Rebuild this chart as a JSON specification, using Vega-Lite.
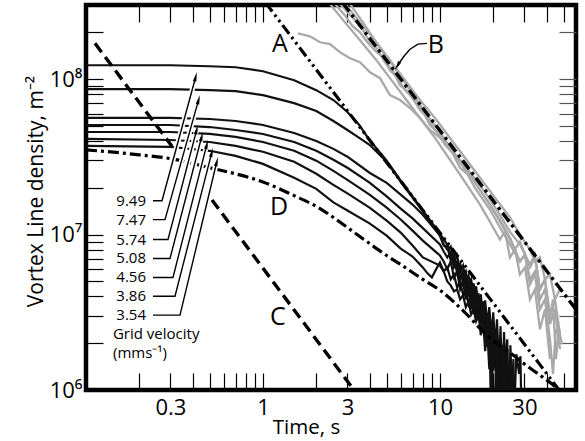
{
"$schema": "https://vega.github.io/schema/vega-lite/v6.json",
"width": 490, "height": 385,
"autosize": {"type": "none"},
"padding": {"left": 86, "top": 5, "right": 9, "bottom": 51},
"background": "white",
"config": {
  "view": {"stroke": "black", "strokeWidth": 4.5},
  "font": "Open Sans",
  "axis": {"grid": false, "domain": false, "tickColor": "black", "tickWidth": 1.2, "tickSize": -17,
    "labelFont": "Open Sans", "titleFont": "Open Sans", "labelFontSize": 22, "titleFontSize": 20.5,
    "titleFontWeight": "normal", "labelColor": "black", "titleColor": "black",
    "labelOverlap": false, "labelBound": false, "labelFlush": false}
},
"datasets": {
  "black": [
    {"v":"9.49","t":0.1,"n":1.229e8},{"v":"9.49","t":0.3,"n":1.229e8},{"v":"9.49","t":0.5,"n":1.211e8},{"v":"9.49","t":0.7,"n":1.193e8},{"v":"9.49","t":1,"n":1.125e8},{"v":"9.49","t":1.5,"n":9.85e7},{"v":"9.49","t":2,"n":8.5e7},{"v":"9.49","t":2.5,"n":7.34e7},{"v":"9.49","t":3,"n":6.15e7},{"v":"9.49","t":3.5,"n":5.07e7},{"v":"9.49","t":4,"n":4.06e7},{"v":"9.49","t":5,"n":2.99e7},{"v":"9.49","t":6,"n":2.22e7},{"v":"9.49","t":7,"n":1.76e7},{"v":"9.49","t":8,"n":1.43e7},{"v":"9.49","t":10,"n":1.015e7},{"v":"9.49","t":11,"n":8.63e6},{"v":"9.49","t":11.5,"n":7.23e6},{"v":"9.49","t":12,"n":7.44e6},{"v":"9.49","t":12.5,"n":6.15e6},{"v":"9.49","t":13,"n":6.52e6},{"v":"9.49","t":13.5,"n":5.38e6},{"v":"9.49","t":14,"n":5.8e6},{"v":"9.49","t":14.5,"n":4.64e6},{"v":"9.49","t":15,"n":5.15e6},{"v":"9.49","t":15.5,"n":4.07e6},{"v":"9.49","t":16,"n":4.64e6},{"v":"9.49","t":16.5,"n":3.51e6},{"v":"9.49","t":17,"n":4.13e6},{"v":"9.49","t":17.5,"n":3.02e6},{"v":"9.49","t":18,"n":3.77e6},{"v":"9.49","t":18.5,"n":2.65e6},{"v":"9.49","t":19,"n":3.41e6},{"v":"9.49","t":19.5,"n":2.22e6},{"v":"9.49","t":20,"n":3.16e6},{"v":"9.49","t":20.5,"n":1.86e6},{"v":"9.49","t":21,"n":2.85e6},{"v":"9.49","t":21.5,"n":1.38e6},{"v":"9.49","t":22,"n":2.57e6},{"v":"9.49","t":22.5,"n":5e5},{"v":"9.49","t":23,"n":2.36e6},{"v":"9.49","t":23.5,"n":1.4e6},{"v":"9.49","t":24,"n":2.12e6},{"v":"9.49","t":24.5,"n":5e5},{"v":"9.49","t":25,"n":1.94e6},{"v":"9.49","t":26,"n":5e5},{"v":"9.49","t":27,"n":1.7e6},{"v":"9.49","t":28,"n":1.27e6},{"v":"9.49","t":28.5,"n":1.65e6},{"v":"9.49","t":29,"n":5e5},
    {"v":"7.47","t":0.1,"n":8.62e7},{"v":"7.47","t":0.3,"n":8.62e7},{"v":"7.47","t":0.5,"n":8.5e7},{"v":"7.47","t":0.7,"n":8.37e7},{"v":"7.47","t":1,"n":7.9e7},{"v":"7.47","t":1.5,"n":7.01e7},{"v":"7.47","t":2,"n":6.24e7},{"v":"7.47","t":2.5,"n":5.38e7},{"v":"7.47","t":3,"n":4.71e7},{"v":"7.47","t":3.5,"n":4.19e7},{"v":"7.47","t":4,"n":3.78e7},{"v":"7.47","t":5,"n":2.94e7},{"v":"7.47","t":6,"n":2.18e7},{"v":"7.47","t":7,"n":1.73e7},{"v":"7.47","t":8,"n":1.41e7},{"v":"7.47","t":10,"n":9.85e6},{"v":"7.47","t":10.5,"n":8.5e6},{"v":"7.47","t":11,"n":8.38e6},{"v":"7.47","t":11.5,"n":6.81e6},{"v":"7.47","t":12,"n":7.13e6},{"v":"7.47","t":12.5,"n":5.63e6},{"v":"7.47","t":13,"n":6.24e6},{"v":"7.47","t":13.5,"n":4.78e6},{"v":"7.47","t":14,"n":5.54e6},{"v":"7.47","t":14.5,"n":4.01e6},{"v":"7.47","t":15,"n":4.85e6},{"v":"7.47","t":15.5,"n":3.41e6},{"v":"7.47","t":16,"n":4.38e6},{"v":"7.47","t":16.5,"n":2.85e6},{"v":"7.47","t":17,"n":3.89e6},{"v":"7.47","t":17.5,"n":2.36e6},{"v":"7.47","t":18,"n":3.46e6},{"v":"7.47","t":18.5,"n":1.89e6},{"v":"7.47","t":19,"n":3.11e6},{"v":"7.47","t":19.5,"n":5e5},{"v":"7.47","t":20,"n":2.73e6},{"v":"7.47","t":20.5,"n":1.49e6},{"v":"7.47","t":21,"n":2.46e6},{"v":"7.47","t":21.5,"n":5e5},{"v":"7.47","t":22,"n":2.15e6},{"v":"7.47","t":23,"n":1.47e6},{"v":"7.47","t":24,"n":1.83e6},{"v":"7.47","t":25,"n":5e5},{"v":"7.47","t":26,"n":1.58e6},{"v":"7.47","t":26.5,"n":5e5},
    {"v":"5.74","t":0.1,"n":5.63e7},{"v":"5.74","t":0.3,"n":5.63e7},{"v":"5.74","t":0.5,"n":5.54e7},{"v":"5.74","t":0.7,"n":5.38e7},{"v":"5.74","t":1,"n":5.07e7},{"v":"5.74","t":1.5,"n":4.5e7},{"v":"5.74","t":2,"n":4.0e7},{"v":"5.74","t":2.5,"n":3.56e7},{"v":"5.74","t":3,"n":3.17e7},{"v":"5.74","t":4,"n":2.5e7},{"v":"5.74","t":5,"n":2.15e7},{"v":"5.74","t":6,"n":1.81e7},{"v":"5.74","t":7,"n":1.56e7},{"v":"5.74","t":8,"n":1.34e7},{"v":"5.74","t":10,"n":9.85e6},{"v":"5.74","t":10.5,"n":8.63e6},{"v":"5.74","t":11,"n":8.01e6},{"v":"5.74","t":11.5,"n":8.38e6},{"v":"5.74","t":12,"n":6.71e6},{"v":"5.74","t":12.5,"n":7.33e6},{"v":"5.74","t":13,"n":5.8e6},{"v":"5.74","t":13.5,"n":6.32e6},{"v":"5.74","t":14,"n":5.0e6},{"v":"5.74","t":14.5,"n":5.46e6},{"v":"5.74","t":15,"n":4.31e6},{"v":"5.74","t":15.5,"n":4.85e6},{"v":"5.74","t":16,"n":3.61e6},{"v":"5.74","t":16.5,"n":4.19e6},{"v":"5.74","t":17,"n":3.02e6},{"v":"5.74","t":17.5,"n":3.72e6},{"v":"5.74","t":18,"n":2.46e6},{"v":"5.74","t":18.5,"n":3.11e6},{"v":"5.74","t":19,"n":1.97e6},{"v":"5.74","t":19.5,"n":2.61e6},{"v":"5.74","t":20,"n":1.47e6},{"v":"5.74","t":20.5,"n":2.32e6},{"v":"5.74","t":21,"n":1.18e6},{"v":"5.74","t":21.5,"n":1.97e6},{"v":"5.74","t":22,"n":5e5},{"v":"5.74","t":23,"n":1.7e6},{"v":"5.74","t":24,"n":5e5},{"v":"5.74","t":25,"n":1.54e6},{"v":"5.74","t":26,"n":5e5},
    {"v":"5.08","t":0.1,"n":5.07e7},{"v":"5.08","t":0.3,"n":5.07e7},{"v":"5.08","t":0.5,"n":4.92e7},{"v":"5.08","t":0.7,"n":4.71e7},{"v":"5.08","t":1,"n":4.44e7},{"v":"5.08","t":1.5,"n":3.94e7},{"v":"5.08","t":2,"n":3.46e7},{"v":"5.08","t":2.5,"n":3.03e7},{"v":"5.08","t":3,"n":2.69e7},{"v":"5.08","t":4,"n":2.16e7},{"v":"5.08","t":5,"n":1.76e7},{"v":"5.08","t":6,"n":1.47e7},{"v":"5.08","t":7,"n":1.27e7},{"v":"5.08","t":8,"n":1.1e7},{"v":"5.08","t":10,"n":8.63e6},{"v":"5.08","t":10.5,"n":7.78e6},{"v":"5.08","t":11,"n":7.13e6},{"v":"5.08","t":11.5,"n":7.67e6},{"v":"5.08","t":12,"n":6.15e6},{"v":"5.08","t":12.5,"n":6.71e6},{"v":"5.08","t":13,"n":5.15e6},{"v":"5.08","t":13.5,"n":5.8e6},{"v":"5.08","t":14,"n":4.44e6},{"v":"5.08","t":14.5,"n":5.0e6},{"v":"5.08","t":15,"n":3.72e6},{"v":"5.08","t":15.5,"n":4.31e6},{"v":"5.08","t":16,"n":3.11e6},{"v":"5.08","t":16.5,"n":3.83e6},{"v":"5.08","t":17,"n":2.61e6},{"v":"5.08","t":17.5,"n":3.31e6},{"v":"5.08","t":18,"n":2.12e6},{"v":"5.08","t":18.5,"n":2.77e6},{"v":"5.08","t":19,"n":1.68e6},{"v":"5.08","t":19.5,"n":2.32e6},{"v":"5.08","t":20,"n":1.33e6},{"v":"5.08","t":20.5,"n":2.06e6},{"v":"5.08","t":21,"n":5e5},{"v":"5.08","t":22,"n":1.78e6},{"v":"5.08","t":22.5,"n":5e5},{"v":"5.08","t":23.5,"n":1.58e6},{"v":"5.08","t":24.5,"n":5e5},
    {"v":"4.56","t":0.1,"n":4.57e7},{"v":"4.56","t":0.3,"n":4.57e7},{"v":"4.56","t":0.5,"n":4.44e7},{"v":"4.56","t":0.7,"n":4.25e7},{"v":"4.56","t":1,"n":3.94e7},{"v":"4.56","t":1.5,"n":3.46e7},{"v":"4.56","t":2,"n":2.99e7},{"v":"4.56","t":2.5,"n":2.57e7},{"v":"4.56","t":3,"n":2.25e7},{"v":"4.56","t":4,"n":1.81e7},{"v":"4.56","t":5,"n":1.49e7},{"v":"4.56","t":6,"n":1.25e7},{"v":"4.56","t":7,"n":1.06e7},{"v":"4.56","t":8,"n":9.15e6},{"v":"4.56","t":10,"n":7.33e6},{"v":"4.56","t":10.5,"n":6.71e6},{"v":"4.56","t":11,"n":5.97e6},{"v":"4.56","t":11.5,"n":6.71e6},{"v":"4.56","t":12,"n":5.3e6},{"v":"4.56","t":12.5,"n":5.8e6},{"v":"4.56","t":13,"n":4.44e6},{"v":"4.56","t":13.5,"n":5.0e6},{"v":"4.56","t":14,"n":3.83e6},{"v":"4.56","t":14.5,"n":4.44e6},{"v":"4.56","t":15,"n":3.31e6},{"v":"4.56","t":15.5,"n":3.83e6},{"v":"4.56","t":16,"n":2.77e6},{"v":"4.56","t":16.5,"n":3.41e6},{"v":"4.56","t":17,"n":2.25e6},{"v":"4.56","t":17.5,"n":2.94e6},{"v":"4.56","t":18,"n":1.78e6},{"v":"4.56","t":18.5,"n":2.46e6},{"v":"4.56","t":19,"n":1.36e6},{"v":"4.56","t":19.5,"n":2.12e6},{"v":"4.56","t":20,"n":5e5},{"v":"4.56","t":21,"n":1.83e6},{"v":"4.56","t":22,"n":5e5},{"v":"4.56","t":23,"n":1.54e6},{"v":"4.56","t":24,"n":5e5},{"v":"4.56","t":26,"n":1.27e6},{"v":"4.56","t":27,"n":5e5},
    {"v":"3.86","t":0.1,"n":4.13e7},{"v":"3.86","t":0.3,"n":4.06e7},{"v":"3.86","t":0.5,"n":3.94e7},{"v":"3.86","t":0.7,"n":3.72e7},{"v":"3.86","t":1,"n":3.41e7},{"v":"3.86","t":1.5,"n":2.94e7},{"v":"3.86","t":2,"n":2.46e7},{"v":"3.86","t":2.5,"n":2.09e7},{"v":"3.86","t":3,"n":1.84e7},{"v":"3.86","t":4,"n":1.49e7},{"v":"3.86","t":5,"n":1.23e7},{"v":"3.86","t":6,"n":1.03e7},{"v":"3.86","t":7,"n":8.5e6},{"v":"3.86","t":8,"n":7.13e6},{"v":"3.86","t":10,"n":6.32e6},{"v":"3.86","t":10.5,"n":5.8e6},{"v":"3.86","t":11,"n":6.15e6},{"v":"3.86","t":11.5,"n":5.15e6},{"v":"3.86","t":12,"n":5.54e6},{"v":"3.86","t":12.5,"n":4.57e6},{"v":"3.86","t":13,"n":5.0e6},{"v":"3.86","t":13.5,"n":4.13e6},{"v":"3.86","t":14,"n":4.44e6},{"v":"3.86","t":14.5,"n":3.56e6},{"v":"3.86","t":15,"n":3.94e6},{"v":"3.86","t":15.5,"n":3.07e6},{"v":"3.86","t":16,"n":3.51e6},{"v":"3.86","t":17,"n":2.65e6},{"v":"3.86","t":17.5,"n":3.21e6},{"v":"3.86","t":18,"n":2.18e6},{"v":"3.86","t":18.5,"n":2.77e6},{"v":"3.86","t":19,"n":1.78e6},{"v":"3.86","t":19.5,"n":2.39e6},{"v":"3.86","t":20,"n":1.45e6},{"v":"3.86","t":20.5,"n":2.12e6},{"v":"3.86","t":21,"n":1.09e6},{"v":"3.86","t":21.5,"n":1.89e6},{"v":"3.86","t":22,"n":5e5},{"v":"3.86","t":23,"n":1.63e6},{"v":"3.86","t":24,"n":5e5},
    {"v":"3.54","t":0.1,"n":3.72e7},{"v":"3.54","t":0.3,"n":3.67e7},{"v":"3.54","t":0.5,"n":3.46e7},{"v":"3.54","t":0.7,"n":3.21e7},{"v":"3.54","t":1,"n":2.85e7},{"v":"3.54","t":1.5,"n":2.32e7},{"v":"3.54","t":2,"n":1.97e7},{"v":"3.54","t":2.5,"n":1.61e7},{"v":"3.54","t":3,"n":1.43e7},{"v":"3.54","t":4,"n":1.18e7},{"v":"3.54","t":5,"n":9.85e6},{"v":"3.54","t":6,"n":8.13e6},{"v":"3.54","t":7,"n":7.23e6},{"v":"3.54","t":8,"n":6.15e6},{"v":"3.54","t":8.5,"n":5.63e6},{"v":"3.54","t":9,"n":5.3e6},{"v":"3.54","t":9.5,"n":5.97e6},{"v":"3.54","t":10,"n":6.61e6},{"v":"3.54","t":10.5,"n":5.8e6},{"v":"3.54","t":11,"n":5.0e6},{"v":"3.54","t":11.5,"n":4.71e6},{"v":"3.54","t":12,"n":4.31e6},{"v":"3.54","t":12.5,"n":4.44e6},{"v":"3.54","t":13,"n":3.83e6},{"v":"3.54","t":13.5,"n":4.07e6},{"v":"3.54","t":14,"n":3.41e6},{"v":"3.54","t":14.5,"n":3.72e6},{"v":"3.54","t":15,"n":3.07e6},{"v":"3.54","t":15.5,"n":3.31e6},{"v":"3.54","t":16,"n":2.77e6},{"v":"3.54","t":16.5,"n":3.02e6},{"v":"3.54","t":17,"n":2.46e6},{"v":"3.54","t":17.5,"n":2.77e6},{"v":"3.54","t":18,"n":2.25e6},{"v":"3.54","t":18.5,"n":2.53e6},{"v":"3.54","t":19,"n":1.97e6},{"v":"3.54","t":19.5,"n":2.32e6},{"v":"3.54","t":20,"n":1.7e6},{"v":"3.54","t":20.5,"n":2.12e6},{"v":"3.54","t":21,"n":1.27e6},{"v":"3.54","t":21.5,"n":1.97e6},{"v":"3.54","t":22,"n":5e5},{"v":"3.54","t":23,"n":1.78e6},{"v":"3.54","t":24,"n":5e5}
  ],
  "grey": [
    {"g":"g1","t":2.551,"n":3.05e8},{"g":"g1","t":2.906,"n":2.57e8},{"g":"g1","t":3.2,"n":2.2e8},{"g":"g1","t":3.532,"n":2.0e8},{"g":"g1","t":3.9,"n":1.72e8},{"g":"g1","t":4.293,"n":1.53e8},{"g":"g1","t":4.75,"n":1.38e8},{"g":"g1","t":5.218,"n":1.142e8},{"g":"g1","t":5.75,"n":1.02e8},{"g":"g1","t":6.343,"n":8.5e7},{"g":"g1","t":7.0,"n":7.6e7},{"g":"g1","t":7.709,"n":6.33e7},{"g":"g1","t":8.5,"n":5.7e7},{"g":"g1","t":9.371,"n":4.71e7},{"g":"g1","t":10.3,"n":4.2e7},{"g":"g1","t":11.39,"n":3.51e7},{"g":"g1","t":12.5,"n":3.1e7},{"g":"g1","t":13.84,"n":2.61e7},{"g":"g1","t":15.2,"n":2.35e7},{"g":"g1","t":16.83,"n":1.94e7},{"g":"g1","t":19.16,"n":1.56e7},{"g":"g1","t":21.83,"n":1.21e7},{"g":"g1","t":24.86,"n":9.29e6},{"g":"g1","t":26.53,"n":8.01e6},{"g":"g1","t":28.31,"n":6.71e6},{"g":"g1","t":30.21,"n":7.44e6},{"g":"g1","t":32.25,"n":5.15e6},{"g":"g1","t":34.41,"n":5.8e6},{"g":"g1","t":36.73,"n":3.83e6},{"g":"g1","t":39.19,"n":4.44e6},{"g":"g1","t":41.83,"n":2.65e6},{"g":"g1","t":44.64,"n":3.31e6},{"g":"g1","t":47.64,"n":1.83e6},
    {"g":"g2","t":2.906,"n":3.05e8},{"g":"g2","t":3.532,"n":2.32e8},{"g":"g2","t":4.293,"n":1.78e8},{"g":"g2","t":5.218,"n":1.324e8},{"g":"g2","t":6.343,"n":9.85e7},{"g":"g2","t":7.709,"n":7.34e7},{"g":"g2","t":9.371,"n":5.62e7},{"g":"g2","t":11.39,"n":4.18e7},{"g":"g2","t":13.84,"n":3.12e7},{"g":"g2","t":16.83,"n":2.32e7},{"g":"g2","t":20.45,"n":1.73e7},{"g":"g2","t":24.86,"n":1.29e7},{"g":"g2","t":28.31,"n":1.0e7},{"g":"g2","t":32.25,"n":8.01e6},{"g":"g2","t":34.41,"n":6.71e6},{"g":"g2","t":36.73,"n":7.13e6},{"g":"g2","t":39.19,"n":5.15e6},{"g":"g2","t":41.83,"n":5.54e6},{"g":"g2","t":44.64,"n":3.83e6},{"g":"g2","t":47.64,"n":4.44e6},
    {"g":"g3","t":2.723,"n":3.05e8},{"g":"g3","t":3.31,"n":2.39e8},{"g":"g3","t":3.65,"n":2.1e8},{"g":"g3","t":4.022,"n":1.73e8},{"g":"g3","t":4.45,"n":1.55e8},{"g":"g3","t":4.89,"n":1.285e8},{"g":"g3","t":5.4,"n":1.15e8},{"g":"g3","t":5.943,"n":9.15e7},{"g":"g3","t":6.55,"n":8.4e7},{"g":"g3","t":7.224,"n":7.13e7},{"g":"g3","t":7.95,"n":6.3e7},{"g":"g3","t":8.78,"n":5.07e7},{"g":"g3","t":9.7,"n":4.55e7},{"g":"g3","t":10.67,"n":3.78e7},{"g":"g3","t":11.8,"n":3.35e7},{"g":"g3","t":12.97,"n":2.69e7},{"g":"g3","t":14.3,"n":2.45e7},{"g":"g3","t":15.77,"n":2.0e7},{"g":"g3","t":19.16,"n":1.45e7},{"g":"g3","t":21.83,"n":1.11e7},{"g":"g3","t":24.86,"n":8.63e6},{"g":"g3","t":28.31,"n":6.71e6},{"g":"g3","t":30.21,"n":7.44e6},{"g":"g3","t":32.25,"n":4.78e6},{"g":"g3","t":34.41,"n":5.54e6},{"g":"g3","t":36.73,"n":3.31e6},{"g":"g3","t":39.19,"n":3.83e6},{"g":"g3","t":41.83,"n":2.12e6},{"g":"g3","t":43.5,"n":1.27e6},{"g":"g3","t":45.2,"n":2.46e6},
    {"g":"g4","t":3.101,"n":3.05e8},{"g":"g4","t":3.77,"n":2.22e8},{"g":"g4","t":4.581,"n":1.58e8},{"g":"g4","t":5.569,"n":1.18e8},{"g":"g4","t":6.769,"n":8.5e7},{"g":"g4","t":8.228,"n":6.15e7},{"g":"g4","t":10.0,"n":4.57e7},{"g":"g4","t":12.15,"n":3.26e7},{"g":"g4","t":14.77,"n":2.42e7},{"g":"g4","t":17.96,"n":1.73e7},{"g":"g4","t":21.83,"n":1.25e7},{"g":"g4","t":24.86,"n":9.56e6},{"g":"g4","t":26.53,"n":8.01e6},{"g":"g4","t":28.31,"n":9.02e6},{"g":"g4","t":32.25,"n":6.15e6},{"g":"g4","t":34.41,"n":7.13e6},{"g":"g4","t":36.73,"n":4.44e6},{"g":"g4","t":39.19,"n":5.15e6},{"g":"g4","t":41.83,"n":3.07e6},{"g":"g4","t":44.64,"n":3.83e6},{"g":"g4","t":47.64,"n":2.29e6},
    {"g":"g5","t":2.391,"n":3.05e8},{"g":"g5","t":2.906,"n":2.32e8},{"g":"g5","t":3.532,"n":1.78e8},{"g":"g5","t":4.293,"n":1.36e8},{"g":"g5","t":5.218,"n":1.015e8},{"g":"g5","t":6.343,"n":7.56e7},{"g":"g5","t":7.709,"n":5.62e7},{"g":"g5","t":9.371,"n":4.19e7},{"g":"g5","t":11.39,"n":3.03e7},{"g":"g5","t":13.84,"n":2.18e7},{"g":"g5","t":16.83,"n":1.56e7},{"g":"g5","t":19.16,"n":1.21e7},{"g":"g5","t":21.83,"n":9.29e6},{"g":"g5","t":23.29,"n":1.05e7},{"g":"g5","t":24.86,"n":7.13e6},{"g":"g5","t":26.53,"n":8.01e6},{"g":"g5","t":28.31,"n":5.54e6},{"g":"g5","t":30.21,"n":6.15e6},{"g":"g5","t":32.25,"n":3.83e6},{"g":"g5","t":34.41,"n":4.44e6},{"g":"g5","t":36.73,"n":2.46e6},{"g":"g5","t":39.19,"n":3.31e6},{"g":"g5","t":41.83,"n":1.58e6},
    {"g":"g0","t":1.577,"n":1.97e8},{"g":"g0","t":1.843,"n":1.887e8},{"g":"g0","t":2.099,"n":1.727e8},{"g":"g0","t":2.391,"n":1.68e8},{"g":"g0","t":2.723,"n":1.49e8},{"g":"g0","t":3.101,"n":1.363e8},{"g":"g0","t":3.532,"n":1.285e8},{"g":"g0","t":4.022,"n":1.108e8},{"g":"g0","t":4.581,"n":1.015e8},{"g":"g0","t":5.218,"n":7.9e7},{"g":"g0","t":5.943,"n":7.34e7},{"g":"g0","t":6.769,"n":6.52e7},{"g":"g0","t":7.709,"n":5.62e7},{"g":"g0","t":8.78,"n":4.71e7},{"g":"g0","t":10.0,"n":4.19e7},{"g":"g0","t":11.39,"n":3.61e7},{"g":"g0","t":12.97,"n":3.03e7},{"g":"g0","t":14.77,"n":2.53e7},{"g":"g0","t":16.83,"n":2.09e7},{"g":"g0","t":19.16,"n":1.68e7},{"g":"g0","t":21.83,"n":1.34e7},{"g":"g0","t":24.86,"n":1.045e7},{"g":"g0","t":28.31,"n":8.63e6},{"g":"g0","t":32.25,"n":6.42e6},{"g":"g0","t":34.41,"n":7.44e6},{"g":"g0","t":36.73,"n":4.44e6},{"g":"g0","t":39.19,"n":5.15e6},{"g":"g0","t":41.83,"n":2.85e6},{"g":"g0","t":43.5,"n":3.83e6},{"g":"g0","t":45.2,"n":1.58e6},{"g":"g0","t":47.0,"n":2.46e6},{"g":"g0","t":48.9,"n":1.97e6}
  ],
  "refs": [
    {"line":"A","seg":1,"t":1.035,"n":3.1e8},{"line":"A","seg":1,"t":49.8,"n":9.2e5},
    {"line":"B","seg":1,"t":2.82,"n":3.1e8},{"line":"B","seg":1,"t":62,"n":3.04e6},
    {"line":"C","seg":1,"t":0.1124,"n":1.7e8},{"line":"C","seg":1,"t":0.306,"n":3.7e7},
    {"line":"C","seg":2,"t":0.515,"n":1.67e7},{"line":"C","seg":2,"t":3.4,"n":9.4e5},
    {"line":"D","seg":1,"t":0.1,"n":3.51e7},{"line":"D","seg":1,"t":0.2,"n":3.26e7},{"line":"D","seg":1,"t":0.3,"n":3.08e7},{"line":"D","seg":1,"t":0.5,"n":2.69e7},{"line":"D","seg":1,"t":0.7,"n":2.46e7},{"line":"D","seg":1,"t":1,"n":2.18e7},{"line":"D","seg":1,"t":1.5,"n":1.78e7},{"line":"D","seg":1,"t":2,"n":1.52e7},{"line":"D","seg":1,"t":3,"n":1.11e7},{"line":"D","seg":1,"t":4,"n":8.76e6},{"line":"D","seg":1,"t":5,"n":7.33e6},{"line":"D","seg":1,"t":6,"n":6.42e6},{"line":"D","seg":1,"t":8,"n":5.15e6},{"line":"D","seg":1,"t":10,"n":4.38e6},{"line":"D","seg":1,"t":14,"n":3.11e6},{"line":"D","seg":1,"t":18.4,"n":2.25e6},{"line":"D","seg":1,"t":25,"n":1.73e6},{"line":"D","seg":1,"t":30,"n":1.47e6},{"line":"D","seg":1,"t":38,"n":1.21e6},{"line":"D","seg":1,"t":45.8,"n":1.03e6},{"line":"D","seg":1,"t":48,"n":9.8e5}
  ],
  "arrows": [
    {"v":"9.49","t":0.239,"n":1.652e7},{"v":"9.49","t":0.2688,"n":1.652e7},{"v":"9.49","t":0.4166,"n":1.033e8},
    {"v":"7.47","t":0.239,"n":1.248e7},{"v":"7.47","t":0.2795,"n":1.248e7},{"v":"7.47","t":0.4327,"n":7.36e7},
    {"v":"5.74","t":0.239,"n":9.29e6},{"v":"5.74","t":0.2906,"n":9.29e6},{"v":"5.74","t":0.422,"n":4.72e7},
    {"v":"5.08","t":0.239,"n":7.02e6},{"v":"5.08","t":0.2983,"n":7.02e6},{"v":"5.08","t":0.4504,"n":4.26e7},
    {"v":"4.56","t":0.239,"n":5.3e6},{"v":"4.56","t":0.3101,"n":5.3e6},{"v":"4.56","t":0.4815,"n":3.79e7},
    {"v":"3.86","t":0.239,"n":4.01e6},{"v":"3.86","t":0.3183,"n":4.01e6},{"v":"3.86","t":0.5136,"n":3.37e7},
    {"v":"3.54","t":0.239,"n":3.03e6},{"v":"3.54","t":0.3397,"n":3.03e6},{"v":"3.54","t":0.5483,"n":2.94e7},
    {"v":"B","t":5.75,"n":1.218e8},{"v":"B","t":5.87,"n":1.266e8},{"v":"B","t":6.26,"n":1.404e8},{"v":"B","t":6.77,"n":1.557e8},{"v":"B","t":7.51,"n":1.68e8},{"v":"B","t":8.45,"n":1.7e8}
  ],
  "heads": [
    {"v":"9.49","t":0.4166,"n":1.033e8},{"v":"7.47","t":0.4327,"n":7.36e7},{"v":"5.74","t":0.422,"n":4.72e7},{"v":"5.08","t":0.4504,"n":4.26e7},{"v":"4.56","t":0.4815,"n":3.79e7},{"v":"3.86","t":0.5136,"n":3.37e7},{"v":"3.54","t":0.5483,"n":2.94e7},
    {"v":"B","t":5.75,"n":1.218e8}
  ],
  "labels": [
    {"kind":"vel","text":"9.49","t":0.2183,"n":1.652e7},{"kind":"vel","text":"7.47","t":0.2183,"n":1.248e7},{"kind":"vel","text":"5.74","t":0.2183,"n":9.29e6},{"kind":"vel","text":"5.08","t":0.2183,"n":7.02e6},{"kind":"vel","text":"4.56","t":0.2183,"n":5.3e6},{"kind":"vel","text":"3.86","t":0.2183,"n":4.01e6},{"kind":"vel","text":"3.54","t":0.2183,"n":3.03e6},
    {"kind":"gv","text":"Grid velocity","t":0.142,"n":2.28e6},{"kind":"gv","text":"(mms⁻¹)","t":0.142,"n":1.72e6},
    {"kind":"letter","text":"A","t":1.247,"n":1.68e8},{"kind":"letter","text":"B","t":9.49,"n":1.65e8},{"kind":"letter","text":"C","t":1.215,"n":2.94e6},{"kind":"letter","text":"D","t":1.231,"n":1.51e7}
  ]
},
"encoding": {
  "x": {"field": "t", "type": "quantitative", "scale": {"type": "log", "domain": [0.1, 58.7], "nice": false}, "axis": null},
  "y": {"field": "n", "type": "quantitative", "scale": {"type": "log", "domain": [1000000, 300000000], "nice": false}, "axis": null}
},
"resolve": {"axis": {"x": "independent", "y": "independent"}},
"layer": [
  {"data": {"name": "grey"}, "mark": {"type": "line", "clip": true, "color": "#a9a9a9", "strokeWidth": 2.3},
   "encoding": {
     "x": {"field": "t", "type": "quantitative", "scale": {"type": "log", "domain": [0.1, 58.7], "nice": false},
       "axis": {"orient": "top", "values": [0.2,0.3,0.4,0.5,0.6,0.7,0.8,0.9,1,2,3,4,5,6,7,8,9,10,20,30,40,50], "labels": false, "title": null}},
     "y": {"field": "n", "type": "quantitative", "scale": {"type": "log", "domain": [1000000, 300000000], "nice": false},
       "axis": {"orient": "right", "values": [2000000,3000000,4000000,5000000,6000000,7000000,8000000,9000000,10000000,20000000,30000000,40000000,50000000,60000000,70000000,80000000,90000000,100000000,200000000], "labels": false, "title": null, "tickColor": "#555"}},
     "detail": {"field": "g"}}},
  {"data": {"name": "black"}, "mark": {"type": "line", "clip": true, "color": "#111", "strokeWidth": 2.2},
   "encoding": {
     "x": {"field": "t", "type": "quantitative", "scale": {"type": "log", "domain": [0.1, 58.7], "nice": false},
       "axis": {"orient": "bottom", "values": [0.2,0.3,0.4,0.5,0.6,0.7,0.8,0.9,1,2,3,4,5,6,7,8,9,10,20,30,40,50],
         "labelExpr": "datum.value == 0.3 ? '0.3' : datum.value == 1 ? '1' : datum.value == 3 ? '3' : datum.value == 10 ? '10' : datum.value == 30 ? '30' : ''",
         "labelPadding": 41, "labelBaseline": "alphabetic", "title": "Time, s", "titleX": 220, "titleY": 43, "titleBaseline": "alphabetic", "titleAlign": "center"}},
     "y": {"field": "n", "type": "quantitative", "scale": {"type": "log", "domain": [1000000, 300000000], "nice": false},
       "axis": {"orient": "left", "values": [1000000,2000000,3000000,4000000,5000000,6000000,7000000,8000000,9000000,10000000,20000000,30000000,40000000,50000000,60000000,70000000,80000000,90000000,100000000,200000000],
         "labelExpr": "datum.value == 1000000 ? '10⁶' : datum.value == 10000000 ? '10⁷' : datum.value == 100000000 ? '10⁸' : ''",
         "labelPadding": 21, "labelBaseline": "middle", "title": "Vortex Line density, m⁻²", "titleFontSize": 21, "titleX": -40, "titleY": 186, "titleAngle": -90, "titleBaseline": "bottom", "titleAlign": "center"}},
     "detail": {"field": "v"}}},
  {"data": {"name": "refs"}, "transform": [{"filter": "datum.line == 'A'"}],
   "mark": {"type": "line", "clip": true, "color": "black", "strokeWidth": 3.2, "strokeDash": [11,4,2.5,4,2.5,4]}, "encoding": {}},
  {"data": {"name": "refs"}, "transform": [{"filter": "datum.line == 'B'"}],
   "mark": {"type": "line", "clip": true, "color": "black", "strokeWidth": 3.4, "strokeDash": [11,4,3,4]}, "encoding": {}},
  {"data": {"name": "refs"}, "transform": [{"filter": "datum.line == 'C'"}],
   "mark": {"type": "line", "clip": true, "color": "black", "strokeWidth": 3.4, "strokeDash": [11,6]}, "encoding": {"detail": {"field": "seg"}}},
  {"data": {"name": "refs"}, "transform": [{"filter": "datum.line == 'D'"}],
   "mark": {"type": "line", "clip": true, "color": "black", "strokeWidth": 3.2, "strokeDash": [11,4,3,4], "interpolate": "monotone"}, "encoding": {}},
  {"data": {"name": "arrows"}, "transform": [{"filter": "datum.v != 'B'"}],
   "mark": {"type": "line", "color": "white", "strokeWidth": 5}, "encoding": {"detail": {"field": "v"}}},
  {"data": {"name": "arrows"},
   "mark": {"type": "line", "color": "black", "strokeWidth": 1.4}, "encoding": {"detail": {"field": "v"}}},
  {"data": {"name": "heads"}, "transform": [{"filter": "datum.v != 'B'"}],
   "mark": {"type": "point", "shape": "M0,-1L0.35,0.9L-0.35,0.9Z", "size": 100, "filled": true, "color": "black", "opacity": 1, "angle": 14.5}, "encoding": {}},
  {"data": {"name": "heads"}, "transform": [{"filter": "datum.v == 'B'"}],
   "mark": {"type": "point", "shape": "M0,-1L0.35,0.9L-0.35,0.9Z", "size": 100, "filled": true, "color": "black", "opacity": 1, "angle": 210}, "encoding": {}},
  {"data": {"name": "labels"}, "transform": [{"filter": "datum.kind == 'vel'"}],
   "mark": {"type": "text", "align": "right", "baseline": "middle", "fontSize": 15, "font": "Open Sans", "color": "black"}, "encoding": {"text": {"field": "text"}}},
  {"data": {"name": "labels"}, "transform": [{"filter": "datum.kind == 'gv'"}],
   "mark": {"type": "text", "align": "left", "baseline": "middle", "fontSize": 15, "font": "Open Sans", "color": "black"}, "encoding": {"text": {"field": "text"}}},
  {"data": {"name": "labels"}, "transform": [{"filter": "datum.kind == 'letter'"}],
   "mark": {"type": "text", "align": "center", "baseline": "middle", "fontSize": 25, "font": "Open Sans", "color": "black"}, "encoding": {"text": {"field": "text"}}}
]
}
